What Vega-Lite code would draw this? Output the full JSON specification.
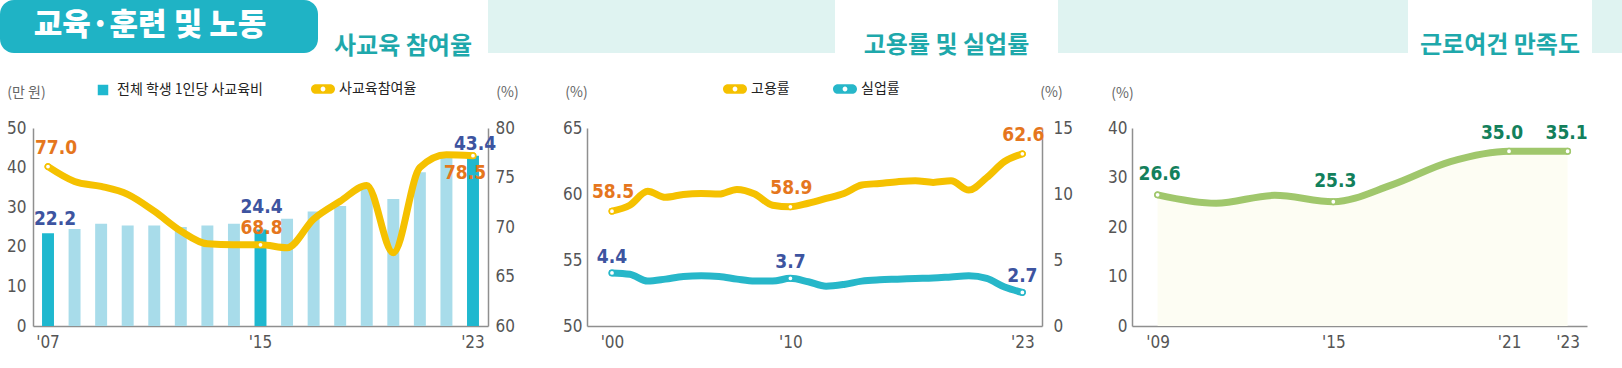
{
"$schema": "https://vega.github.io/schema/vega-lite/v6.json",
"padding": 0,
"background": "white",
"spacing": 18,
"config": {
  "view": {"stroke": null},
  "axis": {"grid": false, "ticks": false, "domainColor": "#8f8f8f", "domainWidth": 1.5, "labelFont": "DejaVu Sans Condensed, Roboto, sans-serif", "labelFontSize": 17, "labelColor": "#555555", "titleFont": "Noto Sans CJK KR", "titleFontSize": 14, "titleFontWeight": "normal", "titleColor": "#666666", "titleAngle": 0, "titleAlign": "center", "titleBaseline": "middle", "labelFlush": false},
  "legend": {"labelFont": "Noto Sans CJK KR", "labelFontSize": 14, "labelColor": "#222222", "orient": "none", "direction": "horizontal"}
},
"vconcat": [
{
  "hconcat": [
    {"width": 318, "height": 53, "view": {"fill": "#1fb3c5", "stroke": null, "cornerRadius": 14}, "data": {"values": [{"t": "교육·훈련 및 노동"}]}, "mark": {"type": "text", "font": "Noto Sans CJK KR", "fontWeight": 900, "fontSize": 31, "color": "white", "align": "center", "baseline": "middle", "dx": -9, "dy": -1}, "encoding": {"text": {"field": "t"}}},
    {"width": 170, "height": 53, "data": {"values": [{"t": "사교육 참여율"}]}, "mark": {"type": "text", "font": "Noto Sans CJK KR", "fontWeight": "bold", "fontSize": 24, "color": "#1ea8ab", "align": "center", "baseline": "middle", "dy": 20}, "encoding": {"text": {"field": "t"}}},
    {"width": 347, "height": 53, "view": {"fill": "#dff3f1", "stroke": null}, "data": {"values": [{}]}, "mark": "text", "encoding": {"text": {"value": ""}}},
    {"width": 223, "height": 53, "data": {"values": [{"t": "고용률 및 실업률"}]}, "mark": {"type": "text", "font": "Noto Sans CJK KR", "fontWeight": "bold", "fontSize": 24, "color": "#1ea8ab", "align": "center", "baseline": "middle", "dy": 19}, "encoding": {"text": {"field": "t"}}},
    {"width": 350, "height": 53, "view": {"fill": "#dff3f1", "stroke": null}, "data": {"values": [{}]}, "mark": "text", "encoding": {"text": {"value": ""}}},
    {"width": 184, "height": 53, "data": {"values": [{"t": "근로여건 만족도"}]}, "mark": {"type": "text", "font": "Noto Sans CJK KR", "fontWeight": "bold", "fontSize": 24, "color": "#1ea8ab", "align": "center", "baseline": "middle", "dy": 19}, "encoding": {"text": {"field": "t"}}},
    {"width": 30, "height": 53, "view": {"fill": "#dff3f1", "stroke": null}, "data": {"values": [{}]}, "mark": "text", "encoding": {"text": {"value": ""}}}
  ],
  "spacing": 0,
  "bounds": "flush"
},
{
  "hconcat": [
    {"width": 33, "height": 198, "data": {"values": [{}]}, "mark": "text", "encoding": {"text": {"value": ""}}},
    {
      "width": 455, "height": 198,
      "data": {"values": [
        {"year": 2007, "cost": 23.4, "rate": 76.1, "costLabel": "22.2", "rateLabel": "77.0"},
        {"year": 2008, "cost": 24.5, "rate": 74.6},
        {"year": 2009, "cost": 25.8, "rate": 74.1},
        {"year": 2010, "cost": 25.4, "rate": 73.3},
        {"year": 2011, "cost": 25.4, "rate": 71.6},
        {"year": 2012, "cost": 25.0, "rate": 69.6},
        {"year": 2013, "cost": 25.4, "rate": 68.3},
        {"year": 2014, "cost": 25.8, "rate": 68.2},
        {"year": 2015, "cost": 24.4, "rate": 68.2, "costLabel": "24.4", "rateLabel": "68.8"},
        {"year": 2016, "cost": 27.1, "rate": 67.9},
        {"year": 2017, "cost": 28.9, "rate": 70.8},
        {"year": 2018, "cost": 30.3, "rate": 72.6},
        {"year": 2019, "cost": 35.0, "rate": 74.2},
        {"year": 2020, "cost": 32.1, "rate": 67.4},
        {"year": 2021, "cost": 38.8, "rate": 76.0},
        {"year": 2022, "cost": 42.4, "rate": 77.3},
        {"year": 2023, "cost": 43.0, "rate": 77.2, "costLabel": "43.4", "rateLabel": "78.5"}
      ]},
      "encoding": {"x": {"field": "year", "type": "ordinal", "scale": {"paddingInner": 0.55, "paddingOuter": 0.34}, "axis": {"title": null, "labelAngle": 0, "labelOverlap": false, "labelPadding": 8, "labelExpr": "datum.value == 2007 || datum.value == 2015 || datum.value == 2023 ? \"'\" + substring(datum.label, 2, 4) : ''"}}},
      "layer": [
        {
          "encoding": {"y": {"field": "cost", "type": "quantitative", "scale": {"domain": [0, 50], "nice": false}, "axis": {"orient": "left", "values": [0, 10, 20, 30, 40, 50], "title": "(만 원)", "titleX": -7, "titleY": -36, "labelPadding": 7}}},
          "layer": [
            {"mark": {"type": "bar"}, "encoding": {"fill": {"datum": "전체 학생 1인당 사교육비", "scale": {"range": ["#1fb8cf"]}, "legend": {"title": null, "legendX": 63, "legendY": -45, "symbolType": "square", "symbolSize": 110, "labelOffset": 7}, "condition": {"test": "datum.year != 2007 && datum.year != 2015 && datum.year != 2023", "value": "#a8dcea"}}}},
            {"transform": [{"filter": "datum.year == 2007"}], "mark": {"type": "text", "font": "DejaVu Sans Condensed, Roboto, sans-serif", "fontSize": 19, "fontWeight": "bold", "align": "center", "baseline": "middle", "dx": 7, "dy": -14, "fill": "#3d54a0"}, "encoding": {"text": {"field": "costLabel"}}},
            {"transform": [{"filter": "datum.year == 2015"}], "mark": {"type": "text", "font": "DejaVu Sans Condensed, Roboto, sans-serif", "fontSize": 19, "fontWeight": "bold", "align": "center", "baseline": "middle", "dx": 1, "dy": -22, "fill": "#3d54a0"}, "encoding": {"text": {"field": "costLabel"}}},
            {"transform": [{"filter": "datum.year == 2023"}], "mark": {"type": "text", "font": "DejaVu Sans Condensed, Roboto, sans-serif", "fontSize": 19, "fontWeight": "bold", "align": "center", "baseline": "middle", "dx": 2, "dy": -12, "fill": "#3d54a0"}, "encoding": {"text": {"field": "costLabel"}}}
          ]
        },
        {
          "encoding": {"y": {"field": "rate", "type": "quantitative", "scale": {"domain": [60, 80], "nice": false, "zero": false}, "axis": {"orient": "right", "values": [60, 65, 70, 75, 80], "title": "(%)", "titleX": 19, "titleY": -36, "labelPadding": 7}}},
          "layer": [
            {"mark": {"type": "line", "interpolate": "monotone", "strokeWidth": 7, "strokeCap": "round", "strokeJoin": "round"}, "encoding": {"stroke": {"datum": "사교육참여율", "scale": {"range": ["#f5c100"]}, "legend": {"title": null, "legendX": 278, "legendY": -51, "symbolType": "M-0.6,-0.4L0.6,-0.4A0.4,0.4,0,0,1,0.6,0.4L-0.6,0.4A0.4,0.4,0,0,1,-0.6,-0.4ZM0.2,0A0.2,0.2,0,1,0,-0.2,0A0.2,0.2,0,1,0,0.2,0Z", "symbolSize": 576, "labelOffset": 4, "encode": {"symbols": {"update": {"fill": {"value": "#f5c100"}, "stroke": {"value": "transparent"}, "strokeWidth": {"value": 0}}}}}}}},
            {"transform": [{"filter": "datum.rateLabel"}], "mark": {"type": "point", "filled": true, "fill": "white", "stroke": "#f5c100", "strokeWidth": 1.5, "size": 28, "opacity": 1}},
            {"transform": [{"filter": "datum.year == 2007"}], "mark": {"type": "text", "font": "DejaVu Sans Condensed, Roboto, sans-serif", "fontSize": 19, "fontWeight": "bold", "align": "center", "baseline": "middle", "dx": 8, "dy": -19, "fill": "#e5761d"}, "encoding": {"text": {"field": "rateLabel"}}},
            {"transform": [{"filter": "datum.year == 2015"}], "mark": {"type": "text", "font": "DejaVu Sans Condensed, Roboto, sans-serif", "fontSize": 19, "fontWeight": "bold", "align": "center", "baseline": "middle", "dx": 1, "dy": -17, "fill": "#e5761d"}, "encoding": {"text": {"field": "rateLabel"}}},
            {"transform": [{"filter": "datum.year == 2023"}], "mark": {"type": "text", "font": "DejaVu Sans Condensed, Roboto, sans-serif", "fontSize": 19, "fontWeight": "bold", "align": "center", "baseline": "middle", "dx": -8, "dy": 17, "fill": "#e5761d"}, "encoding": {"text": {"field": "rateLabel"}}}
          ]
        }
      ],
      "resolve": {"scale": {"y": "independent"}}
    },
    {"width": 98.7, "height": 198, "data": {"values": [{}]}, "mark": "text", "encoding": {"text": {"value": ""}}},
    {
      "width": 455, "height": 198,
      "data": {"values": [
        {"year": 2000, "emp": 58.7, "unemp": 4.02, "empLabel": "58.5", "unempLabel": "4.4"},
        {"year": 2001, "emp": 59.15, "unemp": 3.92},
        {"year": 2002, "emp": 60.2, "unemp": 3.4},
        {"year": 2003, "emp": 59.75, "unemp": 3.55},
        {"year": 2004, "emp": 59.97, "unemp": 3.75},
        {"year": 2005, "emp": 60.04, "unemp": 3.8},
        {"year": 2006, "emp": 60.0, "unemp": 3.75},
        {"year": 2007, "emp": 60.35, "unemp": 3.55},
        {"year": 2008, "emp": 60.0, "unemp": 3.4},
        {"year": 2009, "emp": 59.15, "unemp": 3.4},
        {"year": 2010, "emp": 59.03, "unemp": 3.61, "empLabel": "58.9", "unempLabel": "3.7"},
        {"year": 2011, "emp": 59.3, "unemp": 3.35},
        {"year": 2012, "emp": 59.66, "unemp": 3.02},
        {"year": 2013, "emp": 60.04, "unemp": 3.15},
        {"year": 2014, "emp": 60.68, "unemp": 3.4},
        {"year": 2015, "emp": 60.8, "unemp": 3.5},
        {"year": 2016, "emp": 60.93, "unemp": 3.55},
        {"year": 2017, "emp": 61.0, "unemp": 3.6},
        {"year": 2018, "emp": 60.88, "unemp": 3.64},
        {"year": 2019, "emp": 61.0, "unemp": 3.72},
        {"year": 2020, "emp": 60.3, "unemp": 3.8},
        {"year": 2021, "emp": 61.24, "unemp": 3.6},
        {"year": 2022, "emp": 62.46, "unemp": 2.95},
        {"year": 2023, "emp": 63.04, "unemp": 2.54, "empLabel": "62.6", "unempLabel": "2.7"}
      ]},
      "encoding": {"x": {"field": "year", "type": "quantitative", "scale": {"domain": [1998.6, 2024.1], "nice": false, "zero": false}, "axis": {"title": null, "values": [2000, 2010, 2023], "format": "d", "labelPadding": 8, "labelExpr": "\"'\" + substring(datum.label, 2, 4)"}}},
      "layer": [
        {
          "encoding": {"y": {"field": "emp", "type": "quantitative", "scale": {"domain": [50, 65], "nice": false, "zero": false}, "axis": {"orient": "left", "values": [50, 55, 60, 65], "title": "(%)", "titleX": -11, "titleY": -36, "labelPadding": 5}}},
          "layer": [
            {"mark": {"type": "line", "interpolate": "monotone", "strokeWidth": 7, "strokeCap": "round", "strokeJoin": "round"}, "encoding": {"stroke": {"datum": "고용률", "scale": {"domain": ["고용률", "실업률"], "range": ["#f5c100", "#27b7c9"]}, "legend": {"title": null, "legendX": 136, "legendY": -51, "columnPadding": 42, "symbolType": "M-0.6,-0.4L0.6,-0.4A0.4,0.4,0,0,1,0.6,0.4L-0.6,0.4A0.4,0.4,0,0,1,-0.6,-0.4ZM0.2,0A0.2,0.2,0,1,0,-0.2,0A0.2,0.2,0,1,0,0.2,0Z", "symbolSize": 576, "labelOffset": 4, "encode": {"symbols": {"update": {"fill": [{"test": "datum.value === '고용률'", "value": "#f5c100"}, {"value": "#27b7c9"}], "stroke": {"value": "transparent"}, "strokeWidth": {"value": 0}}}}}}}},
            {"transform": [{"filter": "datum.empLabel"}], "mark": {"type": "point", "filled": true, "fill": "white", "stroke": "#f5c100", "strokeWidth": 1.5, "size": 28, "opacity": 1}},
            {"transform": [{"filter": "datum.empLabel"}], "mark": {"type": "text", "font": "DejaVu Sans Condensed, Roboto, sans-serif", "fontSize": 19, "fontWeight": "bold", "align": "center", "baseline": "middle", "dx": 1, "dy": -19, "fill": "#e5761d"}, "encoding": {"text": {"field": "empLabel"}}}
          ]
        },
        {
          "encoding": {"y": {"field": "unemp", "type": "quantitative", "scale": {"domain": [0, 15], "nice": false}, "axis": {"orient": "right", "values": [0, 5, 10, 15], "title": "(%)", "titleX": 9, "titleY": -36, "labelPadding": 11}}},
          "layer": [
            {"mark": {"type": "line", "interpolate": "monotone", "strokeWidth": 7, "strokeCap": "round", "strokeJoin": "round"}, "encoding": {"stroke": {"datum": "실업률"}}},
            {"transform": [{"filter": "datum.unempLabel"}], "mark": {"type": "point", "filled": true, "fill": "white", "stroke": "#27b7c9", "strokeWidth": 1.5, "size": 28, "opacity": 1}},
            {"transform": [{"filter": "datum.unempLabel"}], "mark": {"type": "text", "font": "DejaVu Sans Condensed, Roboto, sans-serif", "fontSize": 19, "fontWeight": "bold", "align": "center", "baseline": "middle", "dx": 0, "dy": -16, "fill": "#3d54a0"}, "encoding": {"text": {"field": "unempLabel"}}}
          ]
        }
      ],
      "resolve": {"scale": {"y": "independent"}}
    },
    {"width": 90, "height": 198, "data": {"values": [{}]}, "mark": "text", "encoding": {"text": {"value": ""}}},
    {
      "width": 455, "height": 198,
      "data": {"values": [
        {"year": 2009, "sat": 26.5, "label": "26.6"},
        {"year": 2011, "sat": 24.8},
        {"year": 2013, "sat": 26.4},
        {"year": 2015, "sat": 25.1, "label": "25.3"},
        {"year": 2017, "sat": 28.5},
        {"year": 2019, "sat": 33.2},
        {"year": 2021, "sat": 35.3, "label": "35.0"},
        {"year": 2023, "sat": 35.3, "label": "35.1"}
      ]},
      "encoding": {
        "x": {"field": "year", "type": "quantitative", "scale": {"domain": [2008.126, 2023.662], "nice": false, "zero": false}, "axis": {"title": null, "values": [2009, 2015, 2021, 2023], "format": "d", "labelPadding": 8, "labelExpr": "\"'\" + substring(datum.label, 2, 4)"}},
        "y": {"field": "sat", "type": "quantitative", "scale": {"domain": [0, 40], "nice": false}, "axis": {"values": [0, 10, 20, 30, 40], "title": "(%)", "titleX": -10, "titleY": -35, "labelPadding": 5}}
      },
      "layer": [
        {"mark": {"type": "area", "interpolate": "monotone", "color": "#fdfdf3"}},
        {"mark": {"type": "line", "interpolate": "monotone", "strokeWidth": 7, "strokeCap": "round", "strokeJoin": "round", "color": "#a0c76c"}},
        {"transform": [{"filter": "datum.label"}], "mark": {"type": "point", "filled": true, "fill": "white", "stroke": "#a0c76c", "strokeWidth": 1.5, "size": 28, "opacity": 1}},
        {"transform": [{"filter": "datum.year <= 2015 && datum.label"}], "mark": {"type": "text", "font": "DejaVu Sans Condensed, Roboto, sans-serif", "fontSize": 19, "fontWeight": "bold", "align": "center", "baseline": "middle", "dx": 2, "dy": -21, "fill": "#13805c"}, "encoding": {"text": {"field": "label"}}},
        {"transform": [{"filter": "datum.year == 2021"}], "mark": {"type": "text", "font": "DejaVu Sans Condensed, Roboto, sans-serif", "fontSize": 19, "fontWeight": "bold", "align": "center", "baseline": "middle", "dx": -7, "dy": -18, "fill": "#13805c"}, "encoding": {"text": {"field": "label"}}},
        {"transform": [{"filter": "datum.year == 2023"}], "mark": {"type": "text", "font": "DejaVu Sans Condensed, Roboto, sans-serif", "fontSize": 19, "fontWeight": "bold", "align": "center", "baseline": "middle", "dx": -1, "dy": -18, "fill": "#13805c"}, "encoding": {"text": {"field": "label"}}}
      ]
    }
  ],
  "spacing": 0,
  "bounds": "flush",
  "resolve": {"scale": {"x": "independent", "y": "independent", "fill": "independent", "stroke": "independent"}}
}
]
}
